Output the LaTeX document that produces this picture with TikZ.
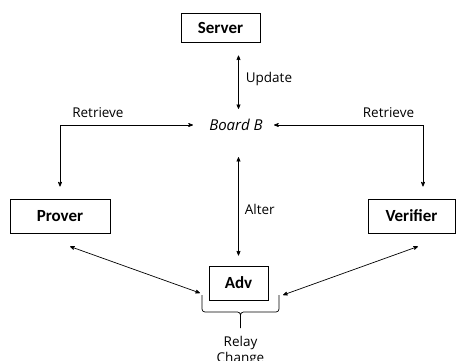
\documentclass[tikz,border=0pt]{standalone}
\usepackage{fontspec}
\setmainfont{Open Sans}
\newfontfamily\boxfont{Carlito}
\usetikzlibrary{arrows}

\begin{document}
\begin{tikzpicture}[x=1pt,y=-1pt,<->,>=stealth',line width=0.7pt,
    party/.style={draw,line width=1pt,inner sep=0pt,minimum height=34pt,
                  font=\boxfont\fontsize{17}{20}\selectfont\bfseries},
    lbl/.style={inner sep=3pt,font=\fontsize{13.5}{16}\selectfont}]
  \useasboundingbox (0,0) rectangle (461,360);

  \node[party,minimum width=79pt,minimum height=29pt] (S) at (220.5,27.5) {Server};
  \node[inner sep=3pt,font=\fontsize{15}{18}\selectfont\itshape] (B) at (236,125) {Board B};
  \node[party,minimum width=100pt] (P) at (60,216) {Prover};
  \node[party,minimum width=87pt] (V) at (411.5,216) {Verifier};
  \node[party,minimum width=59pt] (A) at (238.5,283) {Adv};

  % brace under the adversary
  \coordinate (relayL) at (202,295);
  \coordinate (relayR) at (279,295);
  \coordinate (knee) at (240.5,312);
  \coordinate (tip) at (240.5,328);

  \draw[shorten <=13pt,shorten >=7pt] (S.south -| A.center)
        -- node[lbl,right=4pt] (upd) {Update} (B.north -| A.center);
  \draw[shorten <=23pt,shorten >=10pt] (B.south -| A.center)
        -- node[lbl,pos=0.57,right=3pt] (alt) {Alter} (A.north);
  \draw[shorten <=13pt,shorten >=12pt] (B.west)
        -| node[lbl,pos=0.37,above=4pt] (retP) {Retrieve} (P.north);
  \draw[shorten <=8pt,shorten >=12pt] (B.east)
        -| node[lbl,pos=0.39,above=4pt] (retV) {Retrieve} ([xshift=11.5pt]V.north);

  \draw ([xshift=10pt,yshift=-13pt]P.south) -- ([xshift=-2pt,yshift=2pt]relayL);
  \draw ([xshift=6.5pt,yshift=-13pt]V.south) -- ([xshift=4pt]relayR);

  \draw[-,rounded corners=3pt] (relayL) |- (knee) -- (tip)
                               (relayR) |- (knee) -- (tip);
  \node[lbl,align=center,below=5pt] (rc) at (tip) {Relay\\Change};
\end{tikzpicture}
\end{document}
